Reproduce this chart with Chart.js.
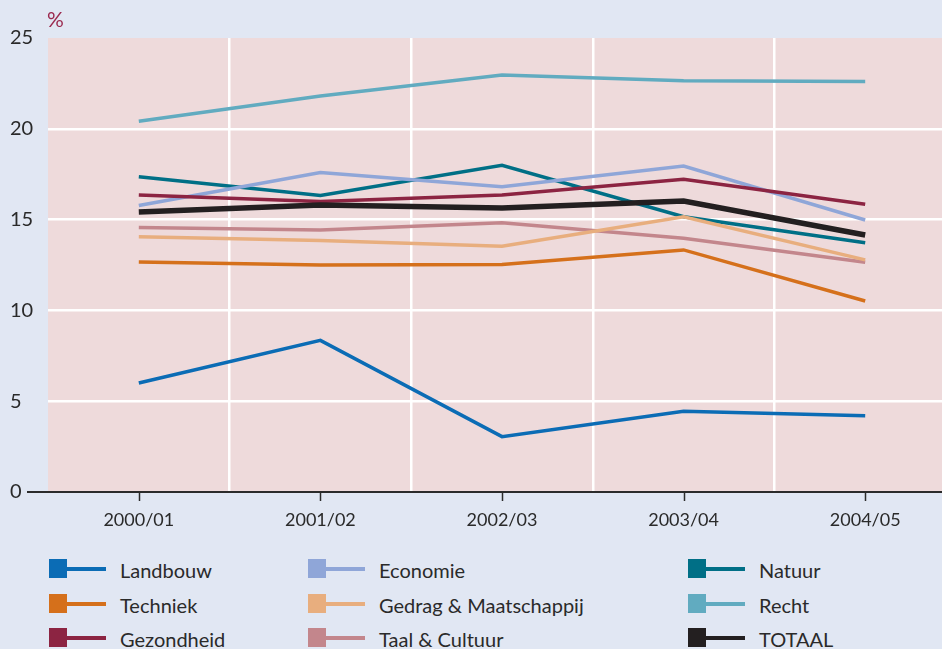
<!DOCTYPE html>
<html>
<head>
<meta charset="utf-8">
<script src="https://cdn.jsdelivr.net/npm/chart.js@4.4.1/dist/chart.umd.min.js"></script>
<style>
  html, body { margin: 0; padding: 0; width: 942px; height: 649px; overflow: hidden; background: #e1e7f3; }
  #wrap { position: absolute; left: 0; top: 0; width: 960px; height: 540px; }
  #unit { position: absolute; left: 47px; top: 6px; font: 21px Lato, sans-serif; color: #9b2a4f; }
  .item { position: absolute; height: 20px; font: 20px Lato, sans-serif; color: #2a2a2a; white-space: nowrap; }
  .sq { position: absolute; left: 0; top: 0; width: 18px; height: 19px; }
  .ln { position: absolute; left: 18px; top: 8px; width: 39px; height: 4px; }
  .lbl { position: absolute; left: 71px; top: -2px; line-height: 26px; }
</style>
</head>
<body>
<div id="wrap"><canvas id="chart" width="960" height="540"></canvas></div>
<div id="unit">%</div>
<div id="legend"></div>
<script>
const years = ['2000/01', '2001/02', '2002/03', '2003/04', '2004/05'];

const landbouw    = [6.0, 8.35, 3.05, 4.45, 4.2];
const techniek    = [12.67, 12.5, 12.53, 13.33, 10.52];
const gezondheid  = [16.35, 16.0, 16.35, 17.22, 15.84];
const economie    = [15.78, 17.59, 16.81, 17.95, 14.98];
const gedrag      = [14.05, 13.85, 13.53, 15.16, 12.78];
const taal        = [14.56, 14.43, 14.83, 13.97, 12.65];
const natuur      = [17.36, 16.33, 17.99, 15.16, 13.72];
const recht       = [20.41, 21.81, 22.96, 22.65, 22.61];
const totaal      = [15.42, 15.81, 15.64, 16.02, 14.15];

const seriesNames  = ['Landbouw', 'Techniek', 'Gezondheid', 'Economie', 'Gedrag & Maatschappij', 'Taal & Cultuur', 'Natuur', 'Recht', 'TOTAAL'];
const seriesData   = [landbouw, techniek, gezondheid, economie, gedrag, taal, natuur, recht, totaal];
const seriesColors = ['#0b6cb5', '#d5701b', '#8c2442', '#8fa6d8', '#e8ae7e', '#c3868c', '#006f86', '#61abc0', '#231f20'];

const yTicks = [0, 5, 10, 15, 20, 25];

const datasets = seriesNames.map((name, i) => ({
  label: name,
  data: seriesData[i],
  borderColor: seriesColors[i],
  backgroundColor: seriesColors[i],
  borderWidth: name === 'TOTAAL' ? 5.5 : 3.5,
  pointRadius: 0,
  tension: 0,
  fill: false,
  order: name === 'TOTAAL' ? 0 : 1
}));

// pink plot background + dark bottom axis with tick marks at the categories
const plotDecor = {
  id: 'plotDecor',
  beforeDraw(chart) {
    const { ctx, chartArea: a } = chart;
    ctx.save();
    ctx.fillStyle = '#eedadb';
    ctx.fillRect(a.left, a.top, a.right - a.left, a.bottom - a.top);
    ctx.restore();
  },
  afterDraw(chart) {
    const { ctx, chartArea: a } = chart;
    const xs = chart.scales.x;
    ctx.save();
    ctx.strokeStyle = '#2b2b2b';
    ctx.lineWidth = 2;
    ctx.beginPath();
    ctx.moveTo(a.left - 21, a.bottom);
    ctx.lineTo(a.right, a.bottom);
    ctx.stroke();
    ctx.lineWidth = 1.5;
    years.forEach((y, i) => {
      const px = Math.round(xs.getPixelForValue(i)) + 0.5;
      ctx.beginPath();
      ctx.moveTo(px, a.bottom);
      ctx.lineTo(px, a.bottom + 9);
      ctx.stroke();
    });
    ctx.restore();
  }
};

new Chart(document.getElementById('chart'), {
  type: 'line',
  data: { labels: years, datasets: datasets },
  options: {
    responsive: false,
    animation: false,
    layout: { padding: { left: 10, top: 38, right: 4, bottom: 0 } },
    plugins: { legend: { display: false }, tooltip: { enabled: false } },
    scales: {
      x: {
        offset: true,
        grid: {
          offset: true,
          drawTicks: false,
          lineWidth: 2.5,
          color: (c) => (c.index === 0 ? 'rgba(0,0,0,0)' : '#ffffff')
        },
        border: { display: false },
        ticks: { color: '#2a2a2a', font: { family: 'Lato', size: 18 }, padding: 17 },
        afterFit(scale) { scale.height = 48; }
      },
      y: {
        min: 0,
        max: 25,
        afterBuildTicks(scale) { scale.ticks = yTicks.map(v => ({ value: v })); },
        grid: {
          drawTicks: false,
          lineWidth: 2.5,
          color: (c) => (c.tick && c.tick.value > 0 && c.tick.value < 25 ? '#ffffff' : 'rgba(0,0,0,0)')
        },
        border: { display: false },
        ticks: { color: '#2a2a2a', font: { family: 'Lato', size: 20 }, crossAlign: 'far', padding: 0 },
        afterFit(scale) { scale.width = 38; }
      }
    }
  },
  plugins: [plotDecor]
});

// legend in three columns, filled column by column
const colX = [49, 308, 688];
const rowY = [559, 594, 628];
const legend = document.getElementById('legend');
seriesNames.forEach((name, i) => {
  const col = Math.floor(i / 3), row = i % 3;
  const item = document.createElement('div');
  item.className = 'item';
  item.style.left = colX[col] + 'px';
  item.style.top = rowY[row] + 'px';
  item.innerHTML = '<div class="sq"></div><div class="ln"></div><div class="lbl"></div>';
  item.querySelector('.sq').style.background = seriesColors[i];
  item.querySelector('.ln').style.background = seriesColors[i];
  item.querySelector('.lbl').textContent = name;
  legend.appendChild(item);
});
</script>
</body>
</html>
